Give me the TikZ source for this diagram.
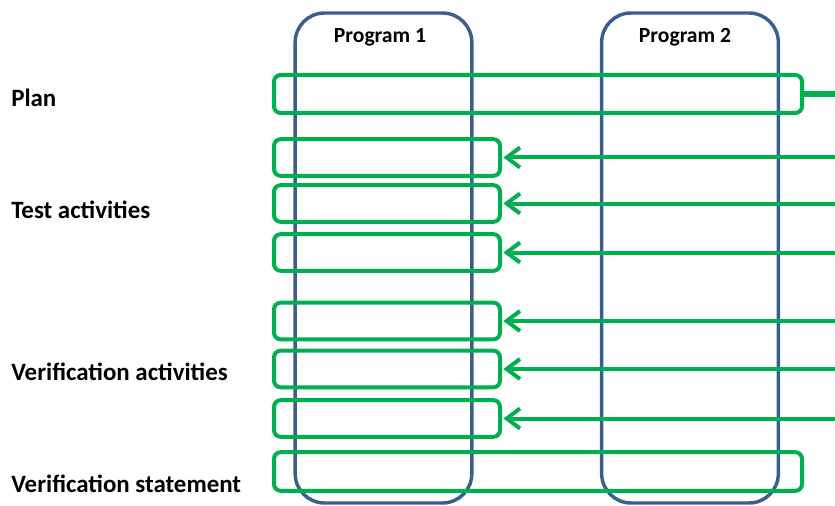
\documentclass[tikz,border=0pt]{standalone}
\usepackage{fontspec}
\setmainfont{Carlito}
\usetikzlibrary{arrows.meta}
\definecolor{gboxc}{HTML}{00B050}
\definecolor{bcolc}{HTML}{3A5F8F}
\begin{document}
\begin{tikzpicture}[x=0.75pt,y=-0.75pt,
  column/.style={draw=bcolc,line width=2.6pt,rounded corners=22pt,minimum width=132.5pt,minimum height=367.5pt,inner sep=0pt},
  gbox/.style={draw=gboxc,line width=3pt,rounded corners=5pt,inner sep=0pt},
  smallbox/.style={gbox,minimum width=169.5pt,minimum height=27.5pt},
  widebox/.style={gbox,minimum width=396pt,minimum height=28.5pt},
  feed/.style={draw=gboxc,line width=3pt,-{Straight Barb[length=10pt,width=15pt,line width=3pt]},shorten >=1pt},
  rowlabel/.style={anchor=west,inner sep=0pt,font=\bfseries\fontsize{18.7pt}{22pt}\selectfont},
  collabel/.style={inner sep=0pt,font=\bfseries\fontsize{16.2pt}{19pt}\selectfont}]
\useasboundingbox (0,0) rectangle (835,506);
% columns
\node[column] (p1) at (383.5,258) {};
\node[column] (p2) at (690,258) {};
\node[collabel] (p1t) at (380,37) {Program 1};
\node[collabel] (p2t) at (685,37) {Program 2};
% row labels
\node[rowlabel] (lplan) at (11,98) {Plan};
\node[rowlabel] (ltest) at (11,210) {Test activities};
\node[rowlabel] (lver) at (11,372) {Verification activities};
\node[rowlabel] (lstat) at (11,484) {Verification statement};
% green boxes
\node[widebox] (plan) at (538,94) {};
\node[smallbox] (t1) at (387,157.5) {};
\node[smallbox] (t2) at (387,203.5) {};
\node[smallbox] (t3) at (387,252.5) {};
\node[smallbox] (v1) at (387,321) {};
\node[smallbox] (v2) at (387,369) {};
\node[smallbox] (v3) at (387,418.5) {};
\node[widebox,minimum height=29pt] (stat) at (538,471.5) {};
% right-edge sources
\coordinate (e0) at (835,94);
\coordinate (e1) at (835,157.5);
\coordinate (e2) at (835,203.5);
\coordinate (e3) at (835,252.5);
\coordinate (e4) at (835,321);
\coordinate (e5) at (835,369);
\coordinate (e6) at (835,418.5);
\draw[draw=gboxc,line width=4pt] (plan.east) -- (e0);
\draw[feed] (e1) -- (t1.east);
\draw[feed] (e2) -- (t2.east);
\draw[feed] (e3) -- (t3.east);
\draw[feed] (e4) -- (v1.east);
\draw[feed] (e5) -- (v2.east);
\draw[feed] (e6) -- (v3.east);
\end{tikzpicture}
\end{document}
